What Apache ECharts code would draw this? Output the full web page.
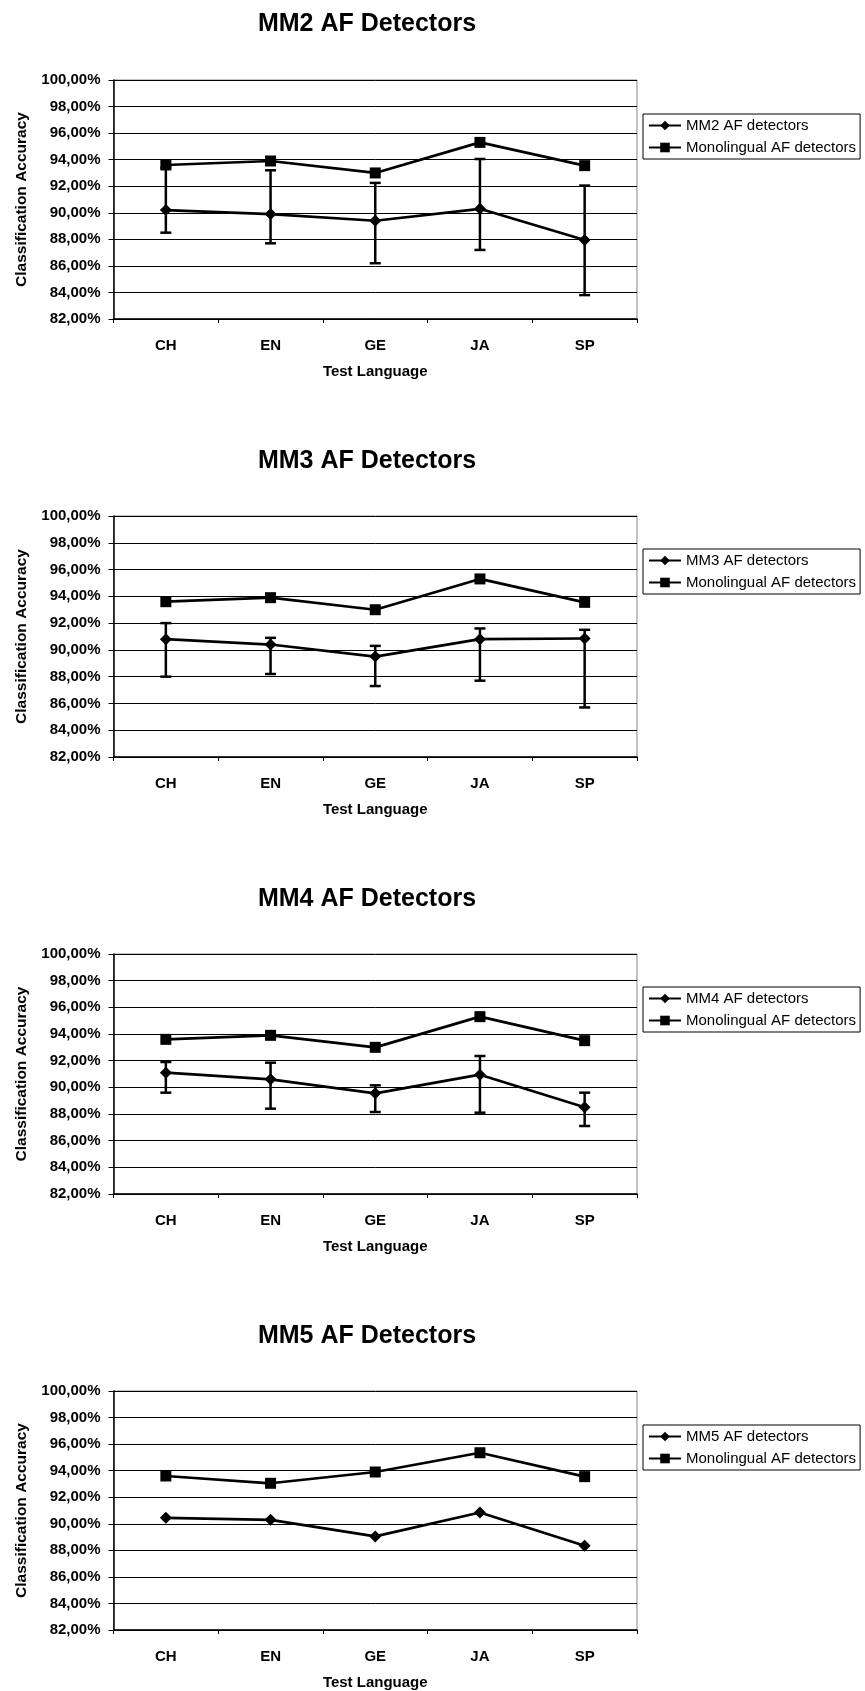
<!DOCTYPE html>
<html>
<head>
<meta charset="utf-8">
<script src="https://cdn.jsdelivr.net/npm/echarts@6/dist/echarts.min.js"></script>
<style>
html,body{margin:0;padding:0;background:#fff;}
#chart{width:865px;height:1691px;}
</style>
</head>
<body>
<div id="chart"></div>
<script>
// ---- data ----
const categories = ['CH', 'EN', 'GE', 'JA', 'SP'];
const yTicks = [82, 84, 86, 88, 90, 92, 94, 96, 98, 100];

const titles = ['MM2 AF Detectors', 'MM3 AF Detectors', 'MM4 AF Detectors', 'MM5 AF Detectors'];
const mmNames = ['MM2 AF detectors', 'MM3 AF detectors', 'MM4 AF detectors', 'MM5 AF detectors'];
const monoName = 'Monolingual AF detectors';

const mono1 = [93.6, 93.9, 93.0, 95.3, 93.55];
const mm2 = [90.2, 89.9, 89.4, 90.3, 87.95];
const mm2Low = [88.5, 87.7, 86.2, 87.2, 83.8];
const mm2High = [93.4, 93.2, 92.25, 94.05, 92.05];

const mono2 = [93.6, 93.9, 93.0, 95.3, 93.55];
const mm3 = [90.8, 90.4, 89.5, 90.8, 90.85];
const mm3Low = [88.0, 88.2, 87.3, 87.7, 85.7];
const mm3High = [92.0, 90.9, 90.3, 91.6, 91.5];

const mono3 = [93.6, 93.9, 93.0, 95.3, 93.5];
const mm4 = [91.1, 90.6, 89.55, 90.95, 88.5];
const mm4Low = [89.6, 88.4, 88.15, 88.1, 87.1];
const mm4High = [91.9, 91.85, 90.15, 92.35, 89.6];

const mono4 = [93.6, 93.05, 93.9, 95.35, 93.55];
const mm5 = [90.45, 90.3, 89.05, 90.85, 88.35];

// ---- layout ----
const FONT = "'Liberation Sans', Arial, Helvetica, sans-serif";
const panels = [
  { mono: mono1, mm: mm2, low: mm2Low, high: mm2High, top: 80, height: 239, titleTop: 10, legendTop: 114 },
  { mono: mono2, mm: mm3, low: mm3Low, high: mm3High, top: 516, height: 241, titleTop: 447, legendTop: 549 },
  { mono: mono3, mm: mm4, low: mm4Low, high: mm4High, top: 954, height: 240, titleTop: 885, legendTop: 987 },
  { mono: mono4, mm: mm5, low: null, high: null, top: 1391, height: 240, titleTop: 1322, legendTop: 1425 }
];
const plotLeft = 113.5, plotWidth = 523.5;

const option = {
  animation: false,
  backgroundColor: '#fff',
  title: [], grid: [], xAxis: [], yAxis: [], legend: [], series: []
};

panels.forEach((p, i) => {
  option.title.push({
    text: titles[i],
    left: 367, top: p.titleTop,
    textAlign: 'center',
    padding: 0,
    textStyle: { fontFamily: FONT, fontSize: 25, fontWeight: 'bold', color: '#000', lineHeight: 28 }
  });
  option.grid.push({
    left: plotLeft, top: p.top, width: plotWidth, height: p.height,
    show: true, borderColor: '#888', borderWidth: 1, backgroundColor: '#fff'
  });
  option.xAxis.push({
    type: 'category', gridIndex: i, data: categories, boundaryGap: true,
    name: 'Test Language', nameLocation: 'middle', nameGap: 45,
    nameTextStyle: { fontFamily: FONT, fontSize: 15, fontWeight: 'bold', color: '#000' },
    axisLine: { show: true, lineStyle: { color: '#000', width: 1.5 } },
    axisTick: { show: true, length: 4, lineStyle: { color: '#000', width: 1 } },
    axisLabel: { margin: 19, fontFamily: FONT, fontSize: 15, fontWeight: 'bold', color: '#000' },
    splitLine: { show: false }
  });
  option.yAxis.push({
    type: 'value', gridIndex: i, min: yTicks[0], max: yTicks[yTicks.length - 1], interval: 2,
    name: 'Classification Accuracy', nameLocation: 'middle', nameRotate: 90, nameGap: 84,
    nameTextStyle: { fontFamily: FONT, fontSize: 15.5, fontWeight: 'bold', color: '#000' },
    axisLine: { show: true, lineStyle: { color: '#000', width: 1.5 } },
    axisTick: { show: true, length: 5, lineStyle: { color: '#000', width: 1 } },
    axisLabel: {
      margin: 13, fontFamily: FONT, fontSize: 15, fontWeight: 'bold', color: '#000',
      formatter: v => v.toFixed(2).replace('.', ',') + '%'
    },
    splitLine: { show: true, lineStyle: { color: '#000', width: 1 } }
  });
  option.legend.push({
    orient: 'vertical',
    left: 643, top: p.legendTop,
    data: [mmNames[i], monoName],
    borderColor: '#000', borderWidth: 1, borderRadius: 0,
    padding: [4, 4, 4, 5],
    itemGap: 7, itemWidth: 32, itemHeight: 12,
    selectedMode: false,
    textStyle: { fontFamily: FONT, fontSize: 15, color: '#000' }
  });
  if (p.low) {
    option.series.push({
      type: 'custom', name: 'err' + i, xAxisIndex: i, yAxisIndex: i, z: 1, silent: true,
      data: categories.map((c, j) => [j, p.low[j], p.high[j]]),
      encode: { x: 0, y: [1, 2] },
      renderItem: (params, api) => {
        const x = api.value(0);
        const lo = api.coord([x, api.value(1)]);
        const hi = api.coord([x, api.value(2)]);
        const hw = 5.5;
        const style = { stroke: '#000', lineWidth: 2.5 };
        return {
          type: 'group', children: [
            { type: 'line', shape: { x1: lo[0], y1: lo[1], x2: hi[0], y2: hi[1] }, style },
            { type: 'line', shape: { x1: lo[0] - hw, y1: lo[1], x2: lo[0] + hw, y2: lo[1] }, style },
            { type: 'line', shape: { x1: hi[0] - hw, y1: hi[1], x2: hi[0] + hw, y2: hi[1] }, style }
          ]
        };
      }
    });
  }
  option.series.push({
    type: 'line', name: mmNames[i], xAxisIndex: i, yAxisIndex: i, z: 3,
    data: p.mm, symbol: 'diamond', symbolSize: 12,
    lineStyle: { color: '#000', width: 2.7 }, itemStyle: { color: '#000' }
  });
  option.series.push({
    type: 'line', name: monoName, xAxisIndex: i, yAxisIndex: i, z: 3,
    data: p.mono, symbol: 'rect', symbolSize: 11,
    lineStyle: { color: '#000', width: 2.7 }, itemStyle: { color: '#000' }
  });
});

const chart = echarts.init(document.getElementById('chart'), null, { renderer: 'canvas' });
chart.setOption(option);
</script>
</body>
</html>
